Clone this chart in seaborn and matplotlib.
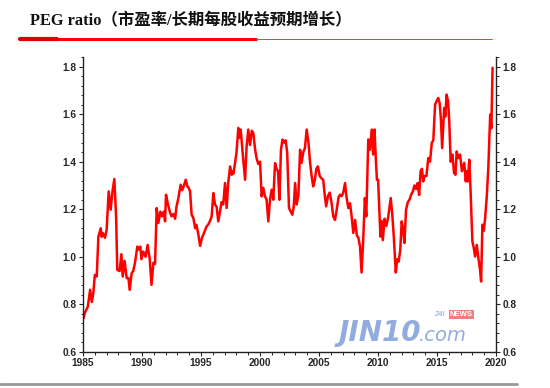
import numpy as np
import pandas as pd
import matplotlib
matplotlib.use("Agg")
import matplotlib.pyplot as plt
import seaborn as sns
from matplotlib.lines import Line2D
from matplotlib.ticker import MultipleLocator

# values (year, PEG ratio)
years = [1985.05, 1985.15, 1985.4, 1985.6, 1985.74, 1985.87, 1986.0, 1986.16, 1986.3, 1986.5,
         1986.58, 1986.68, 1986.86, 1987.0, 1987.17, 1987.34, 1987.48, 1987.65, 1987.8, 1987.9,
         1988.1, 1988.25, 1988.36, 1988.52, 1988.7, 1988.85, 1988.95, 1989.12, 1989.25, 1989.4,
         1989.6, 1989.75, 1989.85, 1989.95, 1990.1, 1990.3, 1990.47, 1990.65, 1990.8, 1990.96,
         1991.1, 1991.24, 1991.38, 1991.55, 1991.7, 1991.85, 1991.95, 1992.03, 1992.2, 1992.35,
         1992.5, 1992.65, 1992.8, 1992.92, 1993.05, 1993.27, 1993.4, 1993.55, 1993.7, 1993.85,
         1993.95, 1994.07, 1994.2, 1994.35, 1994.5, 1994.6, 1994.75, 1994.92, 1995.08, 1995.25,
         1995.47, 1995.6, 1995.75, 1995.9, 1996.04, 1996.18, 1996.32, 1996.46, 1996.6, 1996.74,
         1996.88, 1997.03, 1997.17, 1997.3, 1997.46, 1997.6, 1997.68, 1997.75, 1998.0, 1998.16,
         1998.28, 1998.36, 1998.55, 1998.73, 1998.86, 1999.0, 1999.15, 1999.3, 1999.43, 1999.57,
         1999.7, 1999.85, 2000.0, 2000.13, 2000.27, 2000.41, 2000.55, 2000.7, 2000.84, 2000.98,
         2001.12, 2001.27, 2001.4, 2001.52, 2001.64, 2001.77, 2001.9, 2002.03, 2002.17, 2002.3,
         2002.45, 2002.6, 2002.73, 2002.85, 2002.97, 2003.1, 2003.25, 2003.39, 2003.52, 2003.66,
         2003.8, 2003.95, 2004.1, 2004.24, 2004.37, 2004.5, 2004.63, 2004.77, 2004.9, 2005.05,
         2005.2, 2005.35, 2005.48, 2005.6, 2005.75, 2005.9, 2006.05, 2006.2, 2006.35, 2006.5,
         2006.65, 2006.78, 2006.92, 2007.05, 2007.2, 2007.33, 2007.48, 2007.62, 2007.76, 2007.9,
         2008.05, 2008.2, 2008.33, 2008.47, 2008.6, 2008.73, 2008.88, 2009.0, 2009.17, 2009.3,
         2009.46, 2009.58, 2009.7, 2009.8, 2009.9, 2010.0, 2010.2, 2010.3, 2010.4, 2010.55,
         2010.7, 2010.85, 2011.07, 2011.2, 2011.33, 2011.5, 2011.62, 2011.75, 2011.88, 2012.0,
         2012.12, 2012.23, 2012.37, 2012.52, 2012.66, 2012.8, 2012.95, 2013.08, 2013.22, 2013.35,
         2013.48, 2013.6, 2013.72, 2013.82, 2013.95, 2014.1, 2014.25, 2014.4, 2014.55, 2014.68,
         2014.83, 2014.96, 2015.1, 2015.22, 2015.32, 2015.43, 2015.6, 2015.7, 2015.8, 2015.93,
         2016.03, 2016.15, 2016.3, 2016.44, 2016.56, 2016.66, 2016.8, 2016.95, 2017.1, 2017.3,
         2017.43, 2017.52, 2017.6, 2017.73, 2017.85, 2017.99, 2018.1, 2018.22, 2018.36, 2018.5,
         2018.64, 2018.73, 2018.84, 2018.96, 2019.07, 2019.2, 2019.34, 2019.5, 2019.6, 2019.7]
peg = [0.742, 0.764, 0.79, 0.861, 0.81, 0.847, 0.924, 0.917, 1.085, 1.12,
       1.084, 1.10, 1.08, 1.114, 1.275, 1.198, 1.27, 1.327, 1.17, 0.945,
       0.94, 1.011, 0.917, 0.983, 0.91, 0.91, 0.861, 0.931, 0.94, 0.974,
       1.043, 1.03, 1.043, 0.99, 1.022, 1.0, 1.05, 0.99, 0.882, 0.975,
       0.97, 1.205, 1.142, 1.19, 1.17, 1.19, 1.149, 1.261, 1.219, 1.19,
       1.17, 1.18, 1.16, 1.212, 1.24, 1.303, 1.28, 1.30, 1.324, 1.295,
       1.29, 1.275, 1.177, 1.163, 1.12, 1.135, 1.10, 1.046, 1.08, 1.10,
       1.128, 1.135, 1.15, 1.17, 1.268, 1.22, 1.21, 1.149, 1.19, 1.23,
       1.22, 1.31, 1.205, 1.31, 1.38, 1.345, 1.36, 1.35, 1.437, 1.542,
       1.50, 1.535, 1.422, 1.324, 1.464, 1.535, 1.47, 1.53, 1.52, 1.455,
       1.415, 1.39, 1.40, 1.254, 1.29, 1.255, 1.24, 1.149, 1.24, 1.282,
       1.24, 1.394, 1.37, 1.36, 1.24, 1.45, 1.493, 1.48, 1.49, 1.437,
       1.205, 1.19, 1.177, 1.21, 1.31, 1.22, 1.26, 1.45, 1.395, 1.44,
       1.457, 1.535, 1.48, 1.394, 1.34, 1.296, 1.32, 1.37, 1.38, 1.34,
       1.33, 1.324, 1.26, 1.212, 1.255, 1.27, 1.23, 1.17, 1.155, 1.20,
       1.25, 1.261, 1.255, 1.27, 1.31, 1.25, 1.205, 1.225, 1.17, 1.10,
       1.155, 1.09, 1.08, 1.043, 0.934, 1.06, 1.247, 1.17, 1.493, 1.45,
       1.535, 1.43, 1.535, 1.42, 1.324, 1.324, 1.085, 1.15, 1.07, 1.16,
       1.13, 1.165, 1.247, 1.18, 1.085, 0.934, 0.99, 0.98, 1.03, 1.149,
       1.115, 1.058, 1.198, 1.23, 1.24, 1.261, 1.275, 1.30, 1.285, 1.31,
       1.26, 1.359, 1.37, 1.317, 1.34, 1.34, 1.415, 1.40, 1.479, 1.49,
       1.64, 1.655, 1.668, 1.645, 1.58, 1.457, 1.626, 1.59, 1.682, 1.655,
       1.57, 1.40, 1.43, 1.352, 1.345, 1.443, 1.415, 1.43, 1.36, 1.395,
       1.317, 1.36, 1.317, 1.408, 1.261, 1.065, 1.04, 1.001, 1.05, 0.994,
       0.945, 0.896, 1.135, 1.11, 1.163, 1.246, 1.373, 1.598, 1.54, 1.795]

df = pd.DataFrame({"year": years, "peg": peg})

sns.set_style("ticks")
plt.rcParams['font.family'] = ['Liberation Sans', 'DejaVu Sans']

fig = plt.figure(figsize=(5.5, 3.88), dpi=100)
ax = fig.add_axes([0.151, 0.093, 0.751, 0.76])
sns.lineplot(data=df, x="year", y="peg", color="#ff0000", linewidth=1.8, ax=ax)

ax.set_xlim(1985, 2020)
ax.set_ylim(0.6, 1.84)
ax.set_xticks(range(1985, 2021, 5))
ax.set_yticks([0.6, 0.8, 1.0, 1.2, 1.4, 1.6, 1.8])
ax.xaxis.set_minor_locator(MultipleLocator(1))
ax.yaxis.set_minor_locator(MultipleLocator(0.04))
ax.set_xlabel("")
ax.set_ylabel("")
ax.spines['top'].set_visible(False)
for s in ['left', 'right', 'bottom']:
    ax.spines[s].set_linewidth(1.0)
    ax.spines[s].set_color("#222222")
ax.tick_params(axis='both', which='major', direction='out', length=3, width=0.8,
               labelsize=7.3, pad=1.5)
ax.tick_params(axis='both', which='minor', direction='out', length=1.8, width=0.7)
ax.tick_params(axis='y', which='both', right=True, labelright=True)
for lab in ax.get_xticklabels() + ax.get_yticklabels():
    lab.set_fontweight('bold')
ax.yaxis.set_major_formatter(matplotlib.ticker.FormatStrFormatter('%.1f'))

# title and decoration lines
fig.text(0.055, 0.946, "PEG ratio（市盈率/长期每股收益预期增长）",
         family=['Liberation Serif', 'Noto Sans CJK SC'], fontweight='bold',
         fontsize=11.8, color="#111111", va='center', ha='left')
fig.add_artist(Line2D([0.036, 0.465], [0.899, 0.899], color="#ff0000", linewidth=2.2))
fig.add_artist(Line2D([0.036, 0.104], [0.899, 0.899], color="#e00000", linewidth=3.0))
fig.add_artist(Line2D([0.465, 0.895], [0.899, 0.899], color="#e04040", linewidth=0.7))
fig.add_artist(Line2D([0.0, 0.94], [0.011, 0.011], color="#999999", linewidth=2.0))

# watermark
fig.text(0.615, 0.12, "JIN10", fontsize=20, fontweight='bold', style='italic',
         color="#7f9fd8", alpha=0.85, family=['DejaVu Sans'])
fig.text(0.762, 0.12, ".com", fontsize=14, style='italic',
         color="#7f9fd8", alpha=0.85, family=['DejaVu Sans'])
fig.text(0.79, 0.185, "24I", fontsize=5.5, style='italic', color="#7f9fd8")
fig.text(0.818, 0.185, "NEWS", fontsize=5.5, fontweight='bold', color="white",
         bbox=dict(boxstyle='square,pad=0.1', fc="#f08080", ec='none'))

fig.savefig("out.png", dpi=100)
